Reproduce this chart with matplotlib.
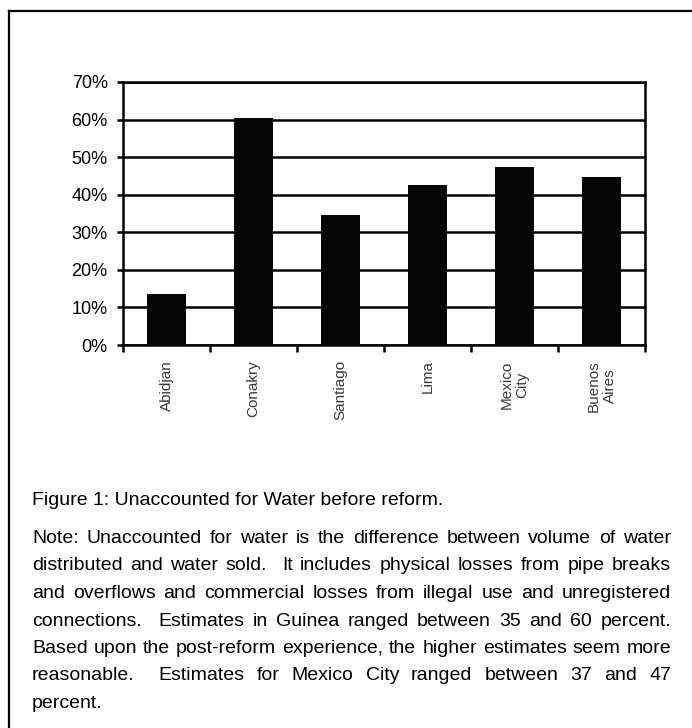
import numpy as np
import matplotlib
matplotlib.use('Agg')
import matplotlib.pyplot as plt
from matplotlib.ticker import PercentFormatter

# Data
cities = ['Abidjan', 'Conakry', 'Santiago', 'Lima', 'Mexico\nCity', 'Buenos\nAires']
ufw = [0.135, 0.605, 0.345, 0.425, 0.475, 0.447]

caption = 'Figure 1: Unaccounted for Water before reform.'
note_lines = [
    'Note: Unaccounted for water is the difference between volume of water',
    'distributed and water sold.  It includes physical losses from pipe breaks',
    'and overflows and commercial losses from illegal use and unregistered',
    'connections.  Estimates in Guinea ranged between 35 and 60 percent.',
    'Based upon the post-reform experience, the higher estimates seem more',
    'reasonable.  Estimates for Mexico City ranged between 37 and 47',
    'percent.',
]

W, H = 692, 728
narrow = ['Liberation Sans Narrow', 'Liberation Sans', 'DejaVu Sans']
plt.rcParams['font.family'] = ['Liberation Sans', 'DejaVu Sans']

fig = plt.figure(figsize=(W / 100, H / 100), dpi=100)

# Chart area
ax = fig.add_axes([123 / W, 1 - 345 / H, (645 - 123) / W, (345 - 82) / H])
x = np.arange(len(cities))
ax.bar(x, ufw, width=0.44, color='#050505', zorder=3)
ax.set_xlim(-0.5, len(cities) - 0.5)
ax.set_ylim(0, 0.70)
ax.set_yticks(np.arange(0, 0.71, 0.1))
ax.yaxis.set_major_formatter(PercentFormatter(1.0, decimals=0))
ax.yaxis.grid(True, color='black', linewidth=1.8, zorder=1)
ax.set_axisbelow(True)
for s in ax.spines.values():
    s.set_linewidth(1.8)
    s.set_color('black')

# boundaries get the tick marks, centers get the labels
ax.set_xticks(np.arange(-0.5, len(cities), 1.0))
ax.set_xticklabels([])
ax.set_xticks(x, minor=True)
ax.set_xticklabels(cities, minor=True, rotation=90, fontsize=11,
                   family=narrow, color='#3a3a3a', multialignment='center')
ax.tick_params(axis='x', which='major', direction='out', length=5, width=1.8)
ax.tick_params(axis='x', which='minor', length=0, pad=11)
ax.tick_params(axis='y', direction='out', length=4, width=1.8, pad=7,
               labelsize=13)

# Frame around the figure (top and left edges of the scan)
fig.add_artist(plt.Line2D([9 / W, 1], [1 - 11 / H, 1 - 11 / H], color='black', lw=1.6))
fig.add_artist(plt.Line2D([9 / W, 9 / W], [0, 1 - 11 / H], color='black', lw=1.6))

# Caption and justified note
fs = 14
fig.text(32 / W, 1 - 505 / H, caption, fontsize=fs, family=narrow, va='baseline')

renderer = fig.canvas.get_renderer()
x0, x1 = 32, 671
y = 543
pitch = 27.5
for i, line in enumerate(note_lines):
    parts = line.split(' ')
    words, units = [], []
    n_sp = 0
    for p in parts:
        if p == '':
            n_sp += 1
            continue
        if words:
            units.append(n_sp + 1)
        words.append(p)
        n_sp = 0
    texts = [fig.text(0, 0, w, fontsize=fs, family=narrow, va='baseline') for w in words]
    widths = [t.get_window_extent(renderer).width for t in texts]
    if i < len(note_lines) - 1 and units:
        unit = (x1 - x0 - sum(widths)) / sum(units)
    else:
        unit = 5
    xp = x0
    for j, (t, w) in enumerate(zip(texts, widths)):
        t.set_position((xp / W, 1 - y / H))
        if j < len(units):
            xp += w + unit * units[j]
    y += pitch

fig.savefig('out.png', dpi=100)
